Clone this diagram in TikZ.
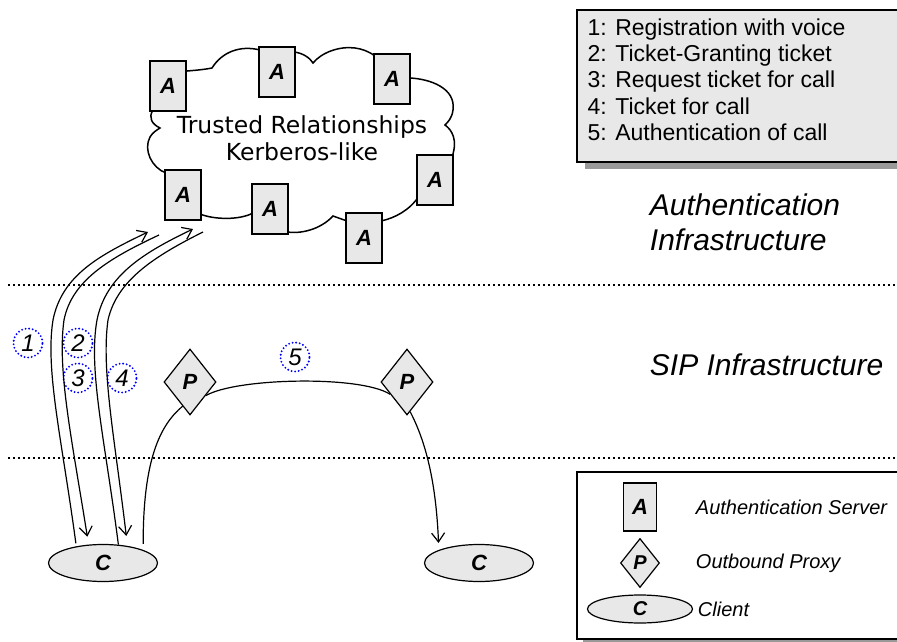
\documentclass[tikz,border=0pt]{standalone}
\usepackage{fontspec}
\setmainfont{Liberation Sans}
\newfontfamily\cloudfont{DejaVu Sans}
\usetikzlibrary{arrows.meta,shapes.geometric}

\begin{document}
\begin{tikzpicture}[x=1pt, y=-1pt,
	>={Straight Barb[length=9pt,width=13pt]},
	every path/.style={line width=1.2pt},
	srv/.style={rectangle, draw=black, fill=black!9, inner sep=0,
				minimum width=36, minimum height=50,
				font=\bfseries\itshape\fontsize{22}{22}\selectfont},
	proxy/.style={diamond, draw=black, fill=black!9, inner sep=0,
				minimum width=52, minimum height=66,
				font=\bfseries\itshape\fontsize{22}{22}\selectfont},
	client/.style={ellipse, draw=black, fill=black!9, inner sep=0,
				minimum width=109, minimum height=37,
				font=\bfseries\itshape\fontsize{22}{22}\selectfont},
	num/.style={circle, draw=blue, line width=2.1pt, line cap=round,
				dash pattern=on 0pt off 3.6pt, inner sep=0, minimum size=29,
				font=\itshape\fontsize{24}{24}\selectfont},
	layer/.style={line width=2pt, dash pattern=on 2pt off 3pt},
	keytext/.style={anchor=west, font=\itshape\fontsize{20}{24}\selectfont}]
	\useasboundingbox (0,0) rectangle (897,642);

	\draw[line width=1.5pt] (187,71) .. controls (200,70) and (207,69) .. (212,68)
		.. controls (222,52) and (240,45) .. (260,50) -- (294,52)
		.. controls (303,53) and (310,58) .. (313,63)
		.. controls (322,52) and (340,46) .. (355,48)
		.. controls (362,49) and (368,51) .. (375,56) -- (410,78)
		.. controls (430,79) and (456,88) .. (453,110)
		.. controls (452,118) and (448,122) .. (445,125)
		.. controls (452,130) and (458,140) .. (452,157) -- (419,196)
		.. controls (410,210) and (395,218) .. (381,221) -- (347,221)
		.. controls (340,218) .. (333,216)
		.. controls (320,230) and (300,234) .. (287,232) -- (253,213)
		.. controls (240,220) and (215,220) .. (200,214) -- (166,173)
		.. controls (152,168) and (143,150) .. (150,137)
		.. controls (153,132) and (157,130) .. (160,128)
		.. controls (152,124) and (148,118) .. (153,110) -- cycle;
	\node[align=center, font=\cloudfont\fontsize{23.5}{27}\selectfont]
		(trust) at (302,138) {Trusted Relationships\\Kerberos-like};
	\node[srv] (a1) at (168,86) {A};
	\node[srv] (a2) at (277,72) {A};
	\node[srv] (a3) at (392,79) {A};
	\node[srv] (a4) at (183,195) {A};
	\node[srv] (a5) at (270,209) {A};
	\node[srv] (a6) at (435,180) {A};
	\node[srv] (a7) at (364,238) {A};

	\fill[black!40] (585,17) rectangle (900,169);
	\draw[fill=black!9] (577,10) rectangle (900,162);
	\node[anchor=north west, align=left, inner sep=0,
		font=\fontsize{23}{26.3}\selectfont] (steps) at (587,18)
		{1: Registration with voice\\2: Ticket-Granting ticket\\
		3: Request ticket for call\\4: Ticket for call\\5: Authentication of call};

	\node[anchor=west, align=left, font=\itshape\fontsize{30}{35}\selectfont]
		(authlbl) at (646,222) {Authentication\\Infrastructure};
	\node[anchor=west, font=\itshape\fontsize{30}{35}\selectfont]
		(siplbl) at (646,365) {SIP Infrastructure};

	\draw[layer] (8,285) -- (897,285);
	\draw[layer] (8,458) -- (897,458);

	\node[proxy] (p1) at (190,382) {P};
	\node[proxy] (p2) at (407,382) {P};
	\node[client] (c1) at (103,563) {C};
	\node[client] (c2) at (479,563) {C};

	\node[num] (n1) at (28,343) {1};
	\node[num] (n2) at (78,343) {2};
	\node[num] (n3) at (78,378) {3};
	\node[num] (n4) at (122,378) {4};
	\node[num] (n5) at (295,357) {5};

	\coordinate (u1) at (148,232);
	\coordinate (d1) at (159,235);
	\coordinate (u2) at (193,229);
	\coordinate (d2) at (203,232);
	\draw[->, shorten <=3pt] (c1.148) .. controls (62,440) and (45,370) .. (53,320)
		.. controls (62,275) and (100,255) .. (u1);
	\draw[->, shorten >=8pt] (d1) .. controls (110,258) and (72,280) .. (64,320)
		.. controls (57,370) and (72,440) .. (c1.128);
	\draw[->] (c1.50) .. controls (105,440) and (88,370) .. (97,320)
		.. controls (106,275) and (145,252) .. (u2);
	\draw[->, shorten >=10pt] (d2) .. controls (155,256) and (117,280) .. (108,320)
		.. controls (101,370) and (115,440) .. (c1.35);

	\draw[shorten <=6pt] (c1.18) .. controls (143,460) and (160,425) .. (p1.253);
	\draw (p1.319) .. controls (235,378) and (360,375) .. (p2.216);
	\draw[->, shorten >=7pt] (p2.276) .. controls (425,440) and (436,480) .. (c2.162);

	\fill[black!40] (583,478) rectangle (900,646);
	\draw[fill=white] (577,472) rectangle (900,639);
	\node[srv, minimum width=33, minimum height=48] (lga) at (640,507) {A};
	\node[proxy, minimum width=39, minimum height=49,
		font=\bfseries\itshape\fontsize{20}{20}\selectfont] (lgp) at (640,563) {P};
	\node[client, minimum width=105, minimum height=28,
		font=\bfseries\itshape\fontsize{20}{20}\selectfont] (lgc) at (640,609) {C};
	\node[keytext] (lgatext) at (692,507) {Authentication Server};
	\node[keytext] (lgptext) at (692,563) {Outbound Proxy};
	\node[keytext] (lgctext) at (694,609) {Client};
\end{tikzpicture}
\end{document}
